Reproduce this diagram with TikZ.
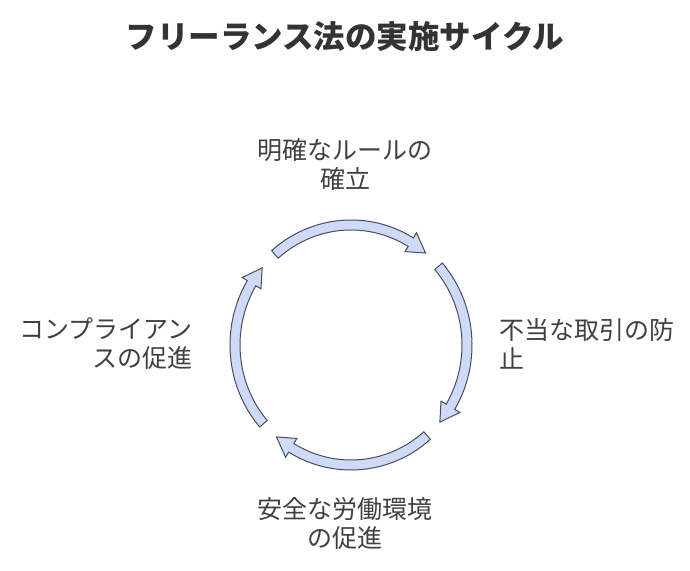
\documentclass[tikz,border=0pt]{standalone}
\usepackage{fontspec}
\setmainfont{Noto Sans CJK JP}
\definecolor{arrfill}{HTML}{CEDBF8}
\definecolor{arrline}{HTML}{4A4D5A}
\definecolor{txt}{HTML}{404040}
\definecolor{ttl}{HTML}{333333}
\tikzset{
  arr/.style={fill=arrfill,draw=arrline,line width=1pt},
  lbl/.style={text=txt,font=\fontsize{25}{29}\selectfont,inner sep=0pt},
}
\newcommand\cycarrow[1]{%
  \draw[arr] ({#1+41}:121 and 125) arc[start angle={#1+41}, end angle={#1-31}, x radius=121, y radius=125]
    -- ({#1-31}:127 and 131) -- ({#1-40}:116 and 120) -- ({#1-31}:105 and 109)
    -- ({#1-31}:111 and 115) arc[start angle={#1-31}, end angle={#1+41}, x radius=111, y radius=115] -- cycle;}
\begin{document}
\begin{tikzpicture}[x=1pt,y=1pt]
\useasboundingbox (0,0) rectangle (690,570);
\node[text=ttl,font=\fontsize{31.5}{34}\selectfont\bfseries,inner sep=0pt] (title) at (345,533) {フリーランス法の実施サイクル};
\begin{scope}[shift={(351,225)}]
  \coordinate (C) at (0,0);
  \cycarrow{90}
  \cycarrow{0}
  \cycarrow{-90}
  \cycarrow{180}
\end{scope}
\node[lbl,align=center] (top) at (345,406) {明確なルールの\\確立};
\node[lbl,align=left,anchor=west] (right) at (499,226) {不当な取引の防\\止};
\node[lbl,align=center] (bottom) at (345,47) {安全な労働環境\\の促進};
\node[lbl,align=right,anchor=east] (left) at (193,226) {コンプライアン\\スの促進};
\end{tikzpicture}
\end{document}
